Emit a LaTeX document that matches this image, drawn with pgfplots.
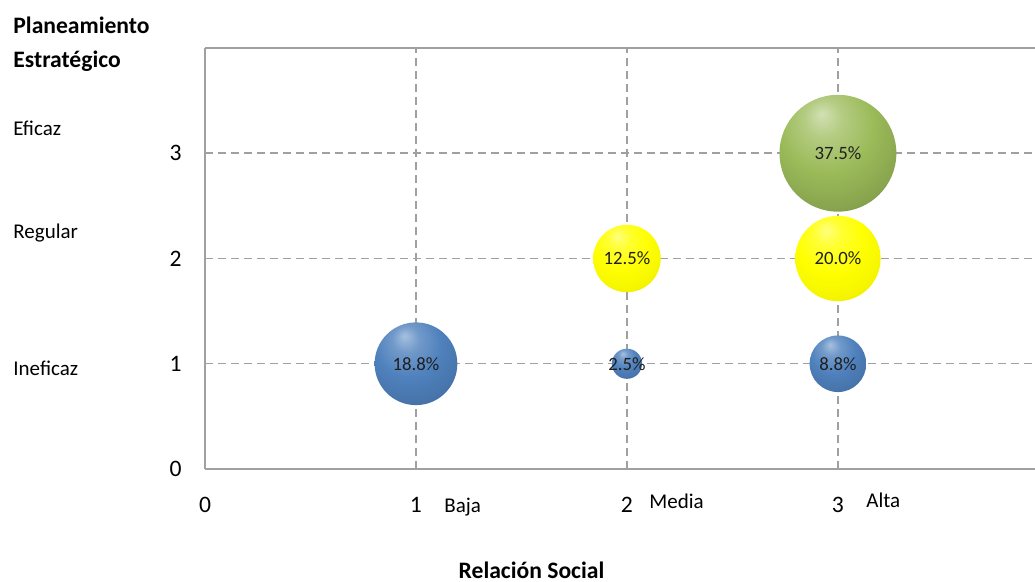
\documentclass[border=0pt]{standalone}
\usepackage{fontspec}
\setmainfont{Carlito}
\usepackage{pgfplots}
\pgfplotsset{compat=1.18}

\definecolor{gridgray}{HTML}{A0A0A0}
\definecolor{axgray}{HTML}{A0A0A0}
\definecolor{bblue}{HTML}{4F81BD}
\definecolor{byellow}{HTML}{FFFF00}
\definecolor{bgreen}{HTML}{9BBB59}
\definecolor{lbltext}{HTML}{1F1F1F}

\pgfdeclareradialshading{sphblue}{\pgfqpoint{-7bp}{17bp}}{%
  color(0bp)=(bblue!50!white);
  color(8bp)=(bblue!80!white);
  color(20bp)=(bblue);
  color(32bp)=(bblue!90!black);
  color(44bp)=(bblue!70!black);
  color(52bp)=(bblue!55!black);
  color(66bp)=(bblue!45!black)}
\pgfdeclareradialshading{sphyellow}{\pgfqpoint{-7bp}{17bp}}{%
  color(0bp)=(byellow!50!white);
  color(8bp)=(byellow!80!white);
  color(20bp)=(byellow);
  color(32bp)=(byellow!96!black);
  color(44bp)=(byellow!86!black);
  color(52bp)=(byellow!72!black);
  color(66bp)=(byellow!60!black)}
\pgfdeclareradialshading{sphgreen}{\pgfqpoint{-7bp}{17bp}}{%
  color(0bp)=(bgreen!45!white);
  color(8bp)=(bgreen!75!white);
  color(20bp)=(bgreen);
  color(32bp)=(bgreen!88!black);
  color(44bp)=(bgreen!68!black);
  color(52bp)=(bgreen!52!black);
  color(66bp)=(bgreen!42!black)}

\pgfdeclareplotmark{sphblue}{\pgfpathcircle{\pgfpointorigin}{\pgfplotmarksize}\pgfshadepath{sphblue}{0}\pgfusepath{}}
\pgfdeclareplotmark{sphyellow}{\pgfpathcircle{\pgfpointorigin}{\pgfplotmarksize}\pgfshadepath{sphyellow}{0}\pgfusepath{}}
\pgfdeclareplotmark{sphgreen}{\pgfpathcircle{\pgfpointorigin}{\pgfplotmarksize}\pgfshadepath{sphgreen}{0}\pgfusepath{}}

% bubble={mark}{value}: area of the bubble proportional to the value
\pgfplotsset{
  bubble/.style 2 args={
    only marks, mark=#1,
    mark size={4.77*sqrt(#2)},
    nodes near coords={\pgfmathprintnumber[fixed,fixed zerofill,precision=1]{#2}\%},
    nodes near coords align=center,
    every node near coord/.append style={font=\fontsize{9.4}{11}\selectfont, text=lbltext, anchor=center, inner sep=0pt},
  },
}

\begin{document}
\begin{tikzpicture}
\useasboundingbox (-102.5pt,-56.5pt) rectangle (415pt,234.5pt);
\begin{axis}[
  scale only axis,
  width=415pt, height=210.5pt,
  xmin=0, xmax=3.934, ymin=0, ymax=4,
  axis x line*=bottom, axis y line*=left,
  axis line style={axgray, line width=0.75pt},
  xtick={0,1,2,3}, ytick={0,1,2,3},
  major tick length=0pt,
  grid=major,
  major grid style={gridgray, dash pattern=on 4pt off 2.5pt, line width=0.75pt},
  /pgf/number format/assume math mode=true,
  ticklabel style={font=\fontsize{11.8}{14}\selectfont, inner sep=0pt},
  xticklabel style={anchor=base, yshift=-22pt},
  yticklabel style={anchor=east, xshift=-11.5pt},
  clip=false,
]
% Ineficaz (blue)
\addplot[bubble={sphblue}{18.8}] coordinates {(1,1)};
\addplot[bubble={sphblue}{2.5}]  coordinates {(2,1)};
\addplot[bubble={sphblue}{8.8}]  coordinates {(3,1)};
% Regular (yellow)
\addplot[bubble={sphyellow}{12.5}] coordinates {(2,2)};
\addplot[bubble={sphyellow}{20.0}] coordinates {(3,2)};
% Eficaz (green)
\addplot[bubble={sphgreen}{37.5}] coordinates {(3,3)};
\draw[axgray, line width=0.75pt] (rel axis cs:0,1) -- (rel axis cs:1,1);
\end{axis}
\node[anchor=base west, inner sep=0pt, font=\fontsize{11.8}{14}\selectfont\bfseries] at (-96pt,217.5pt) {Planeamiento};
\node[anchor=base west, inner sep=0pt, font=\fontsize{11.8}{14}\selectfont\bfseries] at (-96pt,200.5pt) {Estratégico};
\node[anchor=base west, inner sep=0pt, font=\fontsize{10.5}{12}\selectfont] at (-96pt,166.5pt) {Eficaz};
\node[anchor=base west, inner sep=0pt, font=\fontsize{10.5}{12}\selectfont] at (-96pt,115pt) {Regular};
\node[anchor=base west, inner sep=0pt, font=\fontsize{10.5}{12}\selectfont] at (-96pt,46.5pt) {Ineficaz};
\node[anchor=base west, inner sep=0pt, font=\fontsize{10.5}{12}\selectfont] at (119.5pt,-22pt) {Baja};
\node[anchor=base west, inner sep=0pt, font=\fontsize{10.5}{12}\selectfont] at (222pt,-20pt) {Media};
\node[anchor=base west, inner sep=0pt, font=\fontsize{10.5}{12}\selectfont] at (330.5pt,-19.5pt) {Alta};
\node[anchor=base, inner sep=0pt, font=\fontsize{11.8}{14}\selectfont\bfseries] at (163.25pt,-54.8pt) {Relación Social};
\end{tikzpicture}
\end{document}
